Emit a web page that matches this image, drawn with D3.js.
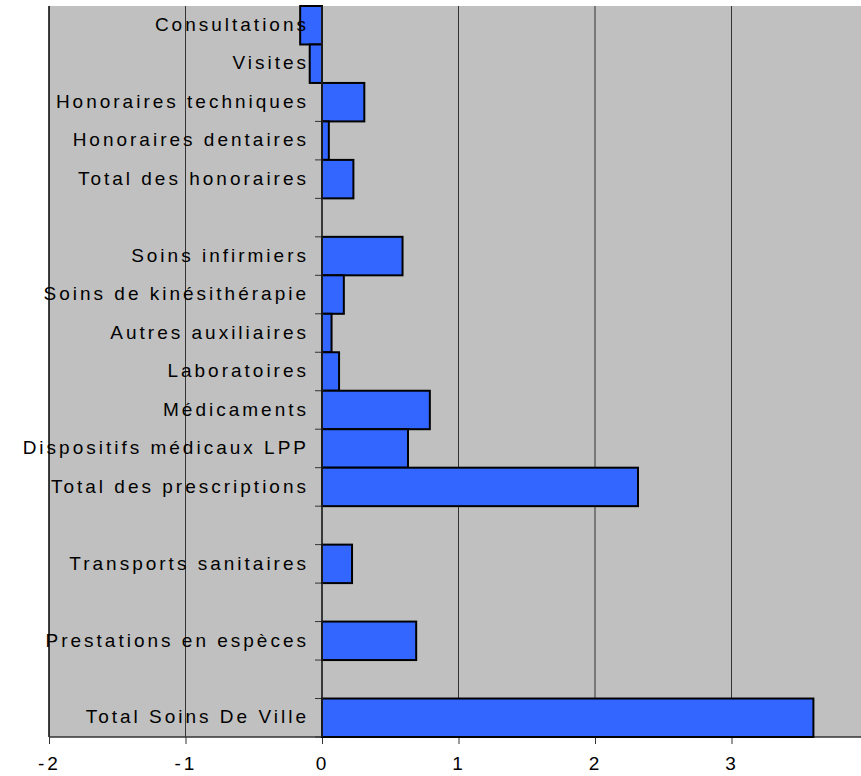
<!DOCTYPE html>
<html>
<head>
<meta charset="utf-8">
<script src="https://d3js.org/d3.v7.min.js"></script>
<style>
  body { margin: 0; background: #fff; }
  text { font-family: "Liberation Sans", Arial, sans-serif; }
</style>
</head>
<body>
<svg id="chart" width="861" height="776"></svg>
<script>
"use strict";

// rows of the chart, "" = empty slot between groups
var categories = [
  "Consultations", "Visites", "Honoraires techniques", "Honoraires dentaires",
  "Total des honoraires", "",
  "Soins infirmiers", "Soins de kinésithérapie", "Autres auxiliaires",
  "Laboratoires", "Médicaments", "Dispositifs médicaux LPP",
  "Total des prescriptions", "",
  "Transports sanitaires", "",
  "Prestations en espèces", "",
  "Total Soins De Ville"
]
var values = [
  -0.16, -0.09, 0.31, 0.05,
  0.23, null,
  0.59, 0.16, 0.07,
  0.125, 0.79, 0.63,
  2.315, null,
  0.22, null,
  0.69, null,
  3.60
]
// axis runs to 4 but the right edge of the picture cuts it before that label
var xTicks = [-2, -1, 0, 1, 2, 3]

function drawChart() {
  var svg = d3.select("#chart")
  var left = 49, plotTop = 6, plotBottom = 737, unit = 136.5

  var x = d3.scaleLinear()
    .domain([-2, 4])
    .range([left, left + 6 * unit])

  var y = d3.scaleBand()
    .domain(d3.range(categories.length))
    .range([plotTop, plotBottom])
    .padding(0)

  // plot background
  svg.append("rect")
    .attr("x", left)
    .attr("y", plotTop)
    .attr("width", x(4) - left)
    .attr("height", plotBottom - plotTop)
    .style("fill", "#c0c0c0")

  // vertical gridlines
  svg.append("g")
    .selectAll("line")
    .data(xTicks)
    .enter()
    .append("line")
      .attr("x1", function(d) { return x(d) })
      .attr("x2", function(d) { return x(d) })
      .attr("y1", plotTop)
      .attr("y2", plotBottom)
      .style("stroke", function(d) { return d === -2 ? "#000" : "#333" })
      .style("stroke-width", function(d) { return d === -2 ? 1.5 : 1 })

  // category axis ticks at band boundaries
  var bounds = d3.range(categories.length + 1).map(function(i) {
    return i < categories.length ? y(i) : plotBottom
  })
  svg.append("g")
    .selectAll("line")
    .data(bounds)
    .enter()
    .append("line")
      .attr("x1", x(0) - 7)
      .attr("x2", x(0))
      .attr("y1", function(d) { return d })
      .attr("y2", function(d) { return d })
      .style("stroke", "#333")
      .style("stroke-width", 1)

  // bottom axis
  var xAxis = d3.axisBottom(x)
    .tickValues(xTicks)
    .tickSize(7)
    .tickPadding(13)
    .tickFormat(function(d) { return d })
  var gx = svg.append("g")
    .attr("transform", "translate(0," + plotBottom + ")")
    .call(xAxis)
  gx.select(".domain").remove()
  gx.append("line")
    .attr("x1", left)
    .attr("x2", 861)
    .style("stroke", "#333")
    .style("stroke-width", 1.5)
  gx.selectAll(".tick line").style("stroke", "#333")
  gx.selectAll(".tick text")
    .style("font-size", "19px")
    .style("letter-spacing", "3px")
    .style("fill", "#000")

  // bars
  var rows = categories.map(function(c, i) { return { name: c, value: values[i], i: i } })
  svg.append("g")
    .selectAll("rect")
    .data(rows.filter(function(d) { return d.value !== null }))
    .enter()
    .append("rect")
      .attr("x", function(d) { return x(Math.min(0, d.value)) })
      .attr("y", function(d) { return y(d.i) })
      .attr("width", function(d) { return Math.abs(x(d.value) - x(0)) })
      .attr("height", y.bandwidth())
      .style("fill", "#3366ff")
      .style("stroke", "#000")
      .style("stroke-width", 2)

  // zero axis line
  svg.append("line")
    .attr("x1", x(0))
    .attr("x2", x(0))
    .attr("y1", plotTop)
    .attr("y2", plotBottom)
    .style("stroke", "#222")
    .style("stroke-width", 1.5)

  // category labels
  svg.append("g")
    .selectAll("text")
    .data(rows.filter(function(d) { return d.name !== "" }))
    .enter()
    .append("text")
      .attr("x", 309)
      .attr("y", function(d) { return y(d.i) + y.bandwidth() / 2 })
      .attr("dy", "0.3em")
      .attr("text-anchor", "end")
      .style("font-size", "19px")
      .style("letter-spacing", "3px")
      .style("fill", "#000")
      .text(function(d) { return d.name })
}

drawChart()
</script>
</body>
</html>
